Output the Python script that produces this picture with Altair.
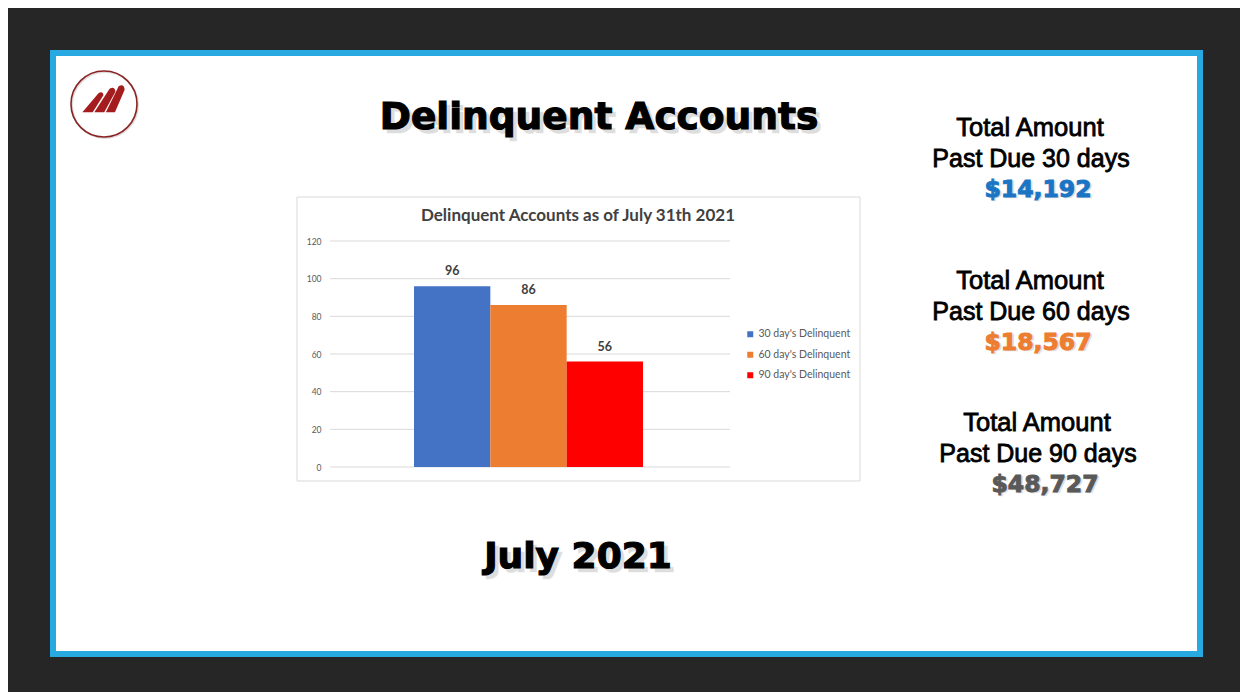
import altair as alt
import pandas as pd

# ---- data ----
series = ["30 day's Delinquent", "60 day's Delinquent", "90 day's Delinquent"]
counts = [96, 86, 56]
series_colors = ["#4472C4", "#ED7D31", "#FF0000"]
y_ticks = [0, 20, 40, 60, 80, 100, 120]
chart_title = "Delinquent Accounts as of July 31th 2021"
slide_title = "Delinquent Accounts"
slide_footer = "July 2021"
total_label = "Total Amount"
due_days = ["30", "60", "90"]
amounts = ["$14,192", "$18,567", "$48,727"]
amount_colors = ["#1B75C4", "#ED7D31", "#595959"]

df = pd.DataFrame({"series": series, "count": counts})
grid_df = pd.DataFrame({"v": y_ticks})
one = pd.DataFrame({"k": [0]})

# plot-area origin in page pixels
OX, OY = 330, 241
PW, PH = 400, 226


def px(X):
    return alt.value(X - OX)


def py(Y):
    return alt.value(Y - OY)


def rect(X1, Y1, X2, Y2, fill, stroke=None, sw=0):
    props = dict(fill=fill)
    if stroke:
        props.update(stroke=stroke, strokeWidth=sw)
    return alt.Chart(one).mark_rect(**props).encode(
        x=px(X1), x2=px(X2), y=py(Y1), y2=py(Y2))


def txt(text, X, Y, size, color, font, weight="normal", sw=0, opacity=1.0):
    props = dict(text=text, fontSize=size, fill=color, font=font,
                 fontWeight=weight, align="center", baseline="middle",
                 opacity=opacity)
    if sw:
        props.update(stroke=color, strokeWidth=sw, strokeOpacity=opacity)
    return alt.Chart(one).mark_text(**props).encode(x=px(X), y=py(Y))


layers = []
# slide frame
layers.append(rect(50, 50, 1203, 657, "#29A9E1"))
layers.append(rect(56, 56, 1197, 651, "#FFFFFF"))
# chart box
layers.append(rect(297, 197, 860, 481, "#FFFFFF", "#D9D9D9", 1))

# logo
layers.append(alt.Chart(one).mark_point(shape="circle", size=4356, filled=False,
                                        stroke="#C8C8C8", strokeWidth=2, opacity=0.6)
              .encode(x=px(105), y=py(105)))
layers.append(alt.Chart(one).mark_point(shape="circle", size=4356, filled=False,
                                        stroke="#8B2323", strokeWidth=1.6, opacity=1)
              .encode(x=px(104), y=py(104)))
logo_path = ("M-1,0.55 L-0.5,0.55 L0.02,-0.28 Q0,-0.5 -0.22,-0.38 Z "
             "M-0.42,0.55 L0.06,0.55 L0.6,-0.45 Q0.58,-0.72 0.32,-0.6 Z "
             "M0.14,0.55 L0.58,0.55 L1.05,-0.55 Q1.02,-0.85 0.76,-0.72 Z")
layers.append(alt.Chart(one).mark_point(shape=logo_path, size=1700, filled=True,
                                        fill="#A51C1F", strokeWidth=0, opacity=1)
              .encode(x=px(103), y=py(101)))

# slide title & footer with shadow
layers.append(txt(slide_title, 603, 122, 37.5, "#A0A0A0", "DejaVu Sans", "bold", 1.2, 0.35))
layers.append(txt(slide_title, 599, 118, 37.5, "#000000", "DejaVu Sans", "bold", 1.2))
layers.append(txt(slide_footer, 582, 561, 36, "#A0A0A0", "DejaVu Sans", "bold", 1.2, 0.35))
layers.append(txt(slide_footer, 578, 557, 36, "#000000", "DejaVu Sans", "bold", 1.2))

# right-side totals
block_y = [128, 281, 423]
block_x = [1030, 1030, 1037]
for d, amt, col, by, bx in zip(due_days, amounts, amount_colors, block_y, block_x):
    layers.append(txt(total_label, bx, by, 25.5, "#000000", "Liberation Sans", "normal", 0.8))
    layers.append(txt(f"Past Due {d} days", bx + 1, by + 31, 25, "#000000",
                      "Liberation Sans", "normal", 0.8))
    layers.append(txt(amt, bx + 10, by + 63, 23.5, "#A0A0A0", "DejaVu Sans", "bold", 1.0, 0.35))
    layers.append(txt(amt, bx + 8, by + 62, 23.5, col, "DejaVu Sans", "bold", 1.0))

# chart title
layers.append(txt(chart_title, 578, 216, 17, "#404040", "Lato", "bold"))

# gridlines + y axis through the y scale
yscale = alt.Scale(domain=[0, 120])
yaxis = alt.Axis(values=y_ticks, grid=False, domain=False, ticks=False,
                 labelPadding=9, labelFontSize=8.5, labelColor="#595959",
                 labelFont="Lato", title=None, zindex=1)
layers.append(alt.Chart(grid_df).mark_rule(color="#D9D9D9", strokeWidth=1).encode(
    y=alt.Y("v:Q", scale=yscale, axis=yaxis),
    x=alt.value(0), x2=alt.value(PW)))

xenc = alt.X("series:N", sort=series,
             scale=alt.Scale(range=[84, 313], paddingInner=0, paddingOuter=0), axis=None)

bars = alt.Chart(df).mark_bar().encode(
    x=xenc,
    y=alt.Y("count:Q", scale=yscale, axis=yaxis),
    color=alt.Color("series:N", sort=series,
                    scale=alt.Scale(domain=series, range=series_colors),
                    legend=alt.Legend(title=None, orient="none", legendX=415, legendY=88,
                                      symbolType="square", symbolSize=36,
                                      symbolStrokeWidth=0, labelFontSize=10.5,
                                      labelColor="#595959", labelFont="Lato",
                                      labelOffset=3, rowPadding=9.5, padding=0,
                                      zindex=1)),
)
labels = alt.Chart(df).mark_text(baseline="bottom", dy=-8, fontSize=12.5,
                                 fontWeight="bold", font="Lato", color="#404040").encode(
    x=xenc, y=alt.Y("count:Q", scale=yscale, axis=yaxis), text="count:Q")

layers += [bars, labels]

chart = alt.layer(*layers).properties(
    width=PW, height=PH,
    background="#262626",
    autosize=alt.AutoSizeParams(type="none"),
    padding={"left": OX - 8, "top": OY - 8,
             "right": 1232 - (OX - 8) - PW, "bottom": 684 - (OY - 8) - PH},
).configure_view(strokeWidth=0)

chart.save("out.html", embed_options={"renderer": "svg", "actions": False})
